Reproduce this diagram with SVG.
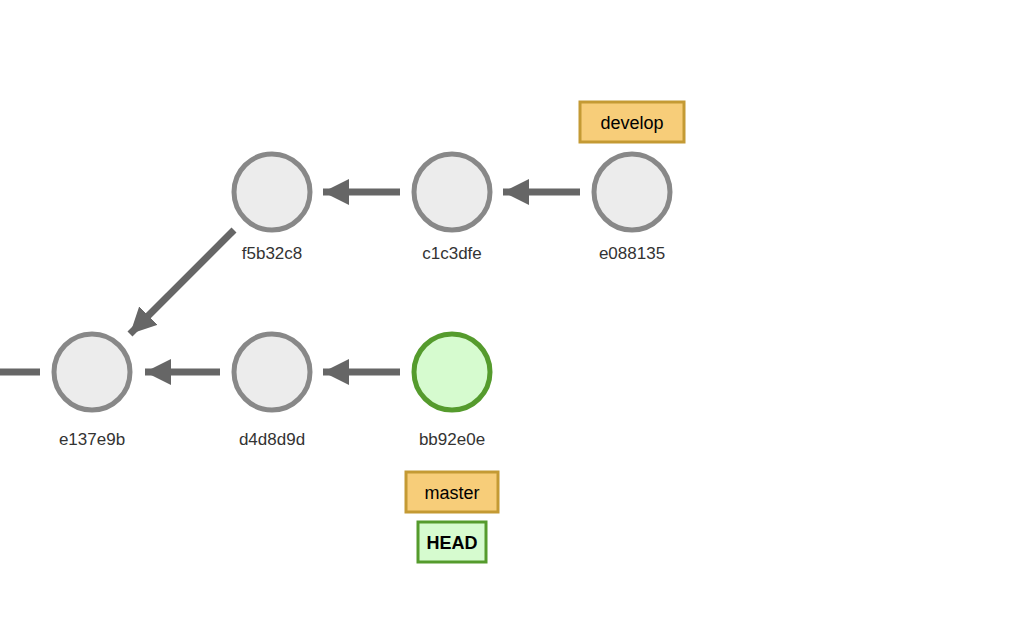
<svg xmlns="http://www.w3.org/2000/svg" width="1026" height="644" viewBox="0 0 1026 644">
<style>
.c{fill:#ececec;stroke:#888;stroke-width:5}
.h{fill:#d6fbcf;stroke:#559b2d;stroke-width:5}
.l{font-family:"Liberation Sans",Arial,sans-serif;font-size:17px;fill:#333;text-anchor:middle}
.e{stroke:#666;stroke-width:7;fill:none}
.b{fill:#f7cd79;stroke:#c49a34;stroke-width:3}
.bt{font-family:"Liberation Sans",Arial,sans-serif;font-size:18px;fill:#000;text-anchor:middle}
</style>
<defs><marker id="a" markerUnits="userSpaceOnUse" markerWidth="26" markerHeight="26" refX="24" refY="12" orient="auto" viewBox="0 0 24 24"><path d="M0,0L24,12L0,24Z" fill="#666"/></marker></defs>
<rect width="1026" height="644" fill="#fff"/>
<g id="edges">
<line class="e" x1="0" y1="372" x2="40" y2="372"/>
<line class="e" x1="220" y1="372" x2="145" y2="372" marker-end="url(#a)"/>
<line class="e" x1="400" y1="372" x2="323" y2="372" marker-end="url(#a)"/>
<line class="e" x1="400" y1="192" x2="323" y2="192" marker-end="url(#a)"/>
<line class="e" x1="580" y1="192" x2="503" y2="192" marker-end="url(#a)"/>
<line class="e" x1="234" y1="230" x2="130" y2="334" marker-end="url(#a)"/>
</g>
<g id="e137e9b"><circle class="c" cx="92" cy="372" r="38"/><text class="l" x="92" y="445">e137e9b</text></g>
<g id="d4d8d9d"><circle class="c" cx="272" cy="372" r="38"/><text class="l" x="272" y="445">d4d8d9d</text></g>
<g id="bb92e0e"><circle class="h" cx="452" cy="372" r="38"/><text class="l" x="452" y="445">bb92e0e</text></g>
<g id="f5b32c8"><circle class="c" cx="272" cy="192" r="38"/><text class="l" x="272" y="259">f5b32c8</text></g>
<g id="c1c3dfe"><circle class="c" cx="452" cy="192" r="38"/><text class="l" x="452" y="259">c1c3dfe</text></g>
<g id="e088135"><circle class="c" cx="632" cy="192" r="38"/><text class="l" x="632" y="259">e088135</text></g>
<g id="develop"><rect class="b" x="580" y="102" width="104" height="40"/><text class="bt" x="632" y="129">develop</text></g>
<g id="master"><rect class="b" x="406" y="472" width="92" height="40"/><text class="bt" x="452" y="499">master</text></g>
<g id="HEAD"><rect x="418" y="522" width="68" height="40" fill="#d6fbcf" stroke="#559b2d" stroke-width="3"/><text class="bt" x="452" y="549" font-weight="bold">HEAD</text></g>
</svg>
